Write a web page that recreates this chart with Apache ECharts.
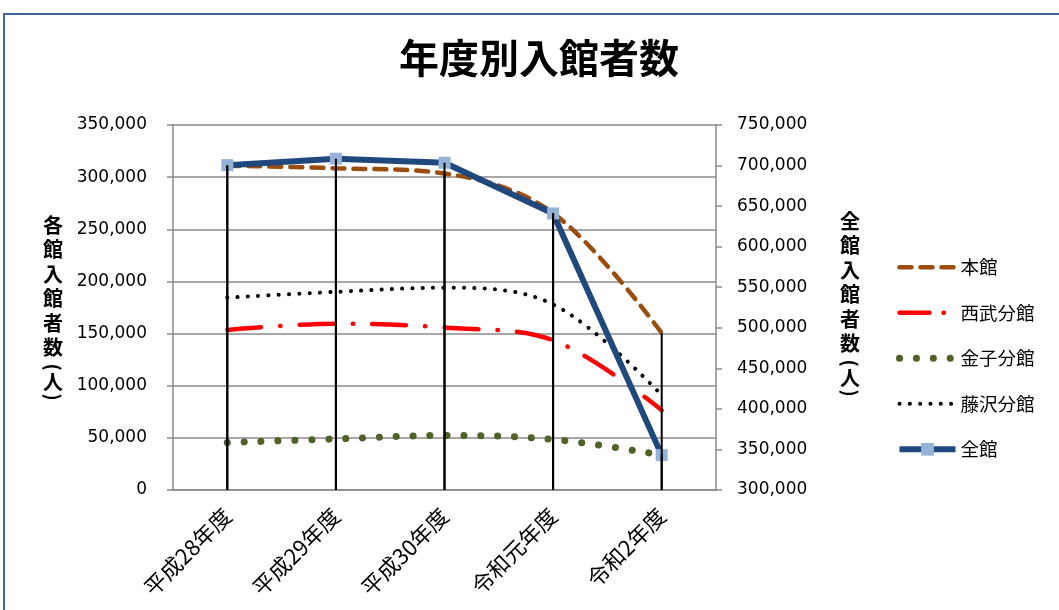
<!DOCTYPE html>
<html><head><meta charset="utf-8">
<script src="https://cdn.jsdelivr.net/npm/echarts@6/dist/echarts.min.js"></script>
<style>html,body{margin:0;padding:0;background:#fff}#c{width:1059px;height:610px}</style>
</head><body><div id="c"></div>
<script>
const categories = ['平成28年度', '平成29年度', '平成30年度', '令和元年度', '令和2年度'];
const honkan   = [311000, 308500, 303500, 265500, 150500];
const seibu    = [153500, 159500, 155800, 143500, 76500];
const kaneko   = [45500, 49000, 52300, 48500, 33500];
const fujisawa = [184500, 190000, 194000, 178000, 91000];
const zenkan   = [700500, 708500, 703500, 641000, 343000];
const seriesNames = ['本館', '西武分館', '金子分館', '藤沢分館', '全館'];
const leftAxis  = { min: 0, max: 350000, step: 50000 };
const rightAxis = { min: 300000, max: 750000, step: 50000 };

const leftMax = categories.map((c, i) => Math.max(honkan[i], seibu[i], kaneko[i], fujisawa[i]));

const fmt = v => Number(v).toLocaleString('en-US');
const cjk = '"Noto Sans CJK JP", "Noto Sans", sans-serif';
const gridColor = '#8a8a8a';

function dropSeries(yAxisIndex, vals) {
  return {
    type: 'custom', yAxisIndex: yAxisIndex, z: 10, silent: true,
    data: vals.map((v, i) => [i, v]),
    renderItem: function (params, api) {
      const p = api.coord([api.value(0), api.value(1)]);
      const cs = params.coordSys;
      return { type: 'line', shape: { x1: p[0], y1: p[1], x2: p[0], y2: cs.y + cs.height },
               style: { stroke: '#000', lineWidth: 2 } };
    }
  };
}

const nameFont = 'bold 20px ' + cjk;
function vname(x, y, chars) {
  return [
    { type: 'text', x: x, y: y, style: { text: chars.join('\n'), font: nameFont, lineHeight: 24.5, fill: '#000', align: 'center', verticalAlign: 'top' } },
    { type: 'text', x: x, y: y + 6 * 24.5 + 7, rotation: -Math.PI / 2, style: { text: '(', font: 'bold 19px ' + cjk, fill: '#000', align: 'center', verticalAlign: 'middle' } },
    { type: 'text', x: x, y: y + 6 * 24.5 + 22, style: { text: '人', font: nameFont, fill: '#000', align: 'center', verticalAlign: 'middle' } },
    { type: 'text', x: x, y: y + 6 * 24.5 + 37, rotation: -Math.PI / 2, style: { text: ')', font: 'bold 19px ' + cjk, fill: '#000', align: 'center', verticalAlign: 'middle' } }
  ];
}

const legendData = seriesNames.map(n => {
  if (n === '全館') return { name: n };
  if (n === '西武分館') return { name: n, itemStyle: { opacity: 0 }, lineStyle: { type: [30, 14, 0.5, 30], width: 4.5, cap: 'round' } };
  return { name: n, itemStyle: { opacity: 0 } };
});

const chart = echarts.init(document.getElementById('c'), null, { renderer: 'canvas' });
chart.setOption({
  backgroundColor: '#fff',
  animation: false,
  graphic: [
    { type: 'rect', shape: { x: 4, y: 14, width: 1200, height: 800 }, style: { fill: 'none', stroke: '#41659A', lineWidth: 2 }, z: -1 },
    { type: 'text', x: 539, y: 58, style: { text: '年度別入館者数', font: 'bold 40px ' + cjk, fill: '#000', align: 'center', verticalAlign: 'middle' } }
  ].concat(vname(53, 213, ['各','館','入','館','者','数']), vname(850, 209, ['全','館','入','館','者','数'])),
  grid: { left: 173, right: 343, top: 125, bottom: 120, containLabel: false },
  legend: {
    orient: 'vertical', left: 891, top: 253, itemWidth: 56, itemHeight: 16, itemGap: 27,
    data: legendData,
    textStyle: { fontFamily: cjk, fontSize: 18.5, color: '#000' },
    lineStyle: { width: 'inherit' }
  },
  xAxis: {
    type: 'category', data: categories, boundaryGap: true,
    axisLine: { show: true, lineStyle: { color: gridColor, width: 1.5 } },
    axisTick: { show: false },
    axisLabel: { rotate: 45, fontFamily: cjk, fontSize: 22, color: '#000', margin: 22, interval: 0 }
  },
  yAxis: [
    {
      type: 'value', position: 'left', min: leftAxis.min, max: leftAxis.max, interval: leftAxis.step,
      axisLine: { show: true, lineStyle: { color: gridColor, width: 1.5 } },
      axisTick: { show: true, length: 6, lineStyle: { color: gridColor, width: 1.5 } },
      splitLine: { show: true, lineStyle: { color: gridColor, width: 1.5 } },
      axisLabel: { fontFamily: '"DejaVu Sans", sans-serif', fontSize: 17, color: '#000', margin: 26, formatter: fmt }
    },
    {
      type: 'value', position: 'right', min: rightAxis.min, max: rightAxis.max, interval: rightAxis.step,
      axisLine: { show: true, lineStyle: { color: gridColor, width: 1.5 } },
      axisTick: { show: true, length: 6, lineStyle: { color: gridColor, width: 1.5 } },
      splitLine: { show: false },
      axisLabel: { fontFamily: '"DejaVu Sans", sans-serif', fontSize: 17, color: '#000', margin: 21, formatter: fmt }
    }
  ],
  series: [
    { name: '本館', type: 'line', yAxisIndex: 0, data: honkan, smooth: 0.35, symbol: 'none',
      itemStyle: { color: '#9A4D0C' },
      lineStyle: { color: '#9A4D0C', width: 4.5, type: [12, 9], cap: 'round' } },
    { name: '西武分館', type: 'line', yAxisIndex: 0, data: seibu, smooth: 0.35, symbol: 'none',
      itemStyle: { color: '#FF0000' },
      lineStyle: { color: '#FF0000', width: 4.5, type: [34, 19, 0.5, 19], cap: 'round' } },
    { name: '金子分館', type: 'line', yAxisIndex: 0, data: kaneko, smooth: 0.35, symbol: 'none',
      itemStyle: { color: '#4F6228' },
      lineStyle: { color: '#4F6228', width: 7, type: [0.1, 16.8], cap: 'round' } },
    { name: '藤沢分館', type: 'line', yAxisIndex: 0, data: fujisawa, smooth: 0.35, symbol: 'none',
      itemStyle: { color: '#000000' },
      lineStyle: { color: '#000000', width: 4, type: [0.1, 10.2], cap: 'round' } },
    { name: '全館', type: 'line', yAxisIndex: 1, data: zenkan, smooth: false, symbol: 'rect', symbolSize: 12,
      itemStyle: { color: '#95B3D7', borderWidth: 0 },
      lineStyle: { color: '#1F497D', width: 6 } },
    dropSeries(0, leftMax),
    dropSeries(1, zenkan)
  ]
});
</script>
</body></html>
